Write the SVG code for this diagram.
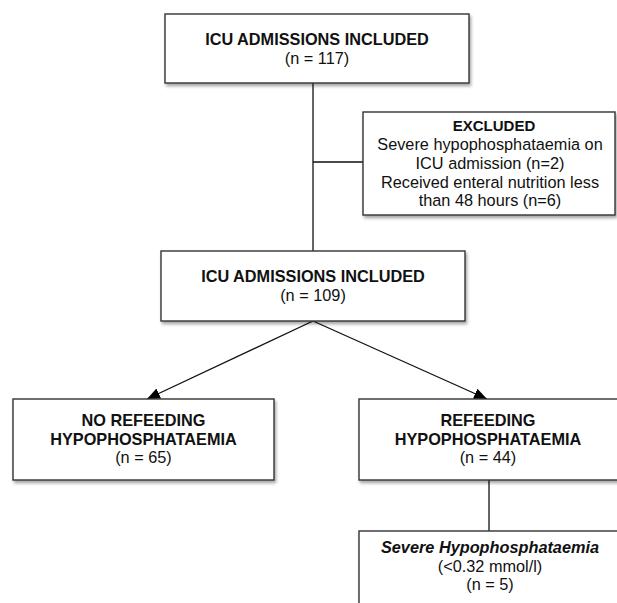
<svg xmlns="http://www.w3.org/2000/svg" width="617" height="603" viewBox="0 0 617 603">
<defs>
<filter id="sh" x="-10%" y="-10%" width="130%" height="140%">
<feDropShadow dx="1.5" dy="2.5" stdDeviation="1.5" flood-color="#000" flood-opacity="0.35"/>
</filter>
<marker id="ah" viewBox="0 0 13 11" refX="13" refY="5.5" markerWidth="13" markerHeight="11" markerUnits="userSpaceOnUse" orient="auto">
<path d="M0,0 L13,5.5 L0,11 Z" fill="#000"/>
</marker>
</defs>
<style>
.box{fill:#fff;stroke:#333;stroke-width:1.4;filter:url(#sh)}
.t{font-family:"Liberation Sans",Arial,sans-serif;font-size:16.3px;fill:#111;text-anchor:middle}
.b{font-weight:bold}
.i{font-style:italic}
.ln{stroke:#111;stroke-width:1.3;fill:none}
</style>
<g id="connectors">
<line class="ln" x1="313" y1="83" x2="313" y2="251"/>
<line class="ln" x1="313" y1="162" x2="363" y2="162"/>
<line class="ln" x1="313" y1="321" x2="147" y2="399" marker-end="url(#ah)"/>
<line class="ln" x1="313" y1="321" x2="487" y2="399" marker-end="url(#ah)"/>
<line class="ln" x1="489" y1="480" x2="489" y2="531"/>
</g>
<g id="n1">
<rect class="box" x="165" y="14" width="304" height="69"/>
<text class="t b" x="317" y="45">ICU ADMISSIONS INCLUDED</text>
<text class="t" x="317" y="64">(n = 117)</text>
</g>
<g id="excluded">
<rect class="box" x="363" y="112" width="252" height="103"/>
<text class="t b" x="494" y="131" style="font-size:15px">EXCLUDED</text>
<text class="t" x="490" y="150">Severe hypophosphataemia on</text>
<text class="t" x="490" y="169">ICU admission (n=2)</text>
<text class="t" x="490" y="187.5">Received enteral nutrition less</text>
<text class="t" x="490" y="206">than 48 hours (n=6)</text>
</g>
<g id="n2">
<rect class="box" x="161" y="251" width="304" height="70"/>
<text class="t b" x="313" y="282">ICU ADMISSIONS INCLUDED</text>
<text class="t" x="313" y="301">(n = 109)</text>
</g>
<g id="noref">
<rect class="box" x="13" y="399" width="261" height="81"/>
<text class="t b" x="143.5" y="426">NO REFEEDING</text>
<text class="t b" x="143.5" y="445">HYPOPHOSPHATAEMIA</text>
<text class="t" x="143.5" y="463">(n = 65)</text>
</g>
<g id="ref">
<rect class="box" x="359" y="399" width="262" height="81"/>
<text class="t b" x="488" y="426">REFEEDING</text>
<text class="t b" x="488" y="445">HYPOPHOSPHATAEMIA</text>
<text class="t" x="488" y="463">(n = 44)</text>
</g>
<g id="severe">
<rect class="box" x="359" y="531" width="262" height="80"/>
<text class="t b i" x="490" y="553">Severe Hypophosphataemia</text>
<text class="t" x="490" y="572">(&lt;0.32 mmol/l)</text>
<text class="t" x="490" y="590">(n = 5)</text>
</g>
</svg>
